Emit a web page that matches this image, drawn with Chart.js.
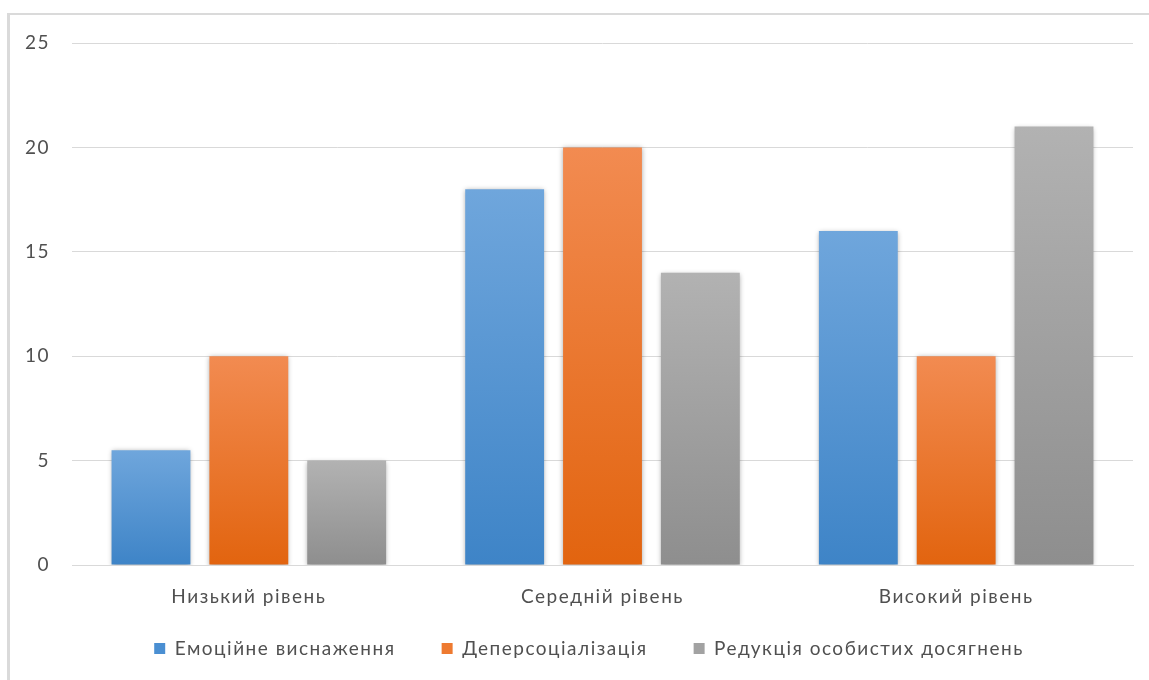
<!DOCTYPE html>
<html lang="uk">
<head>
<meta charset="utf-8">
<title>Рівні професійного вигорання</title>
<script src="https://cdn.jsdelivr.net/npm/chart.js@4/dist/chart.umd.min.js"></script>
<style>
  html, body { margin: 0; padding: 0; background: #ffffff; }
  body { width: 1149px; height: 680px; overflow: hidden; position: relative; }
  #frame {
    position: absolute; left: 7px; top: 13px; width: 1160px; height: 700px;
    border-left: 3px solid #dadada; border-top: 2px solid #dadada;
    box-sizing: border-box;
  }
  #wrap { position: absolute; left: 0; top: 0; width: 1149px; height: 680px; }
</style>
</head>
<body>
<div id="frame"></div>
<div id="wrap"><canvas id="chart" width="1149" height="680"></canvas></div>
<script>
// Categories, series and tick labels
const categories = ['Низький рівень', 'Середній рівень', 'Високий рівень'];
const seriesNames = ['Емоційне виснаження', 'Деперсоціалізація', 'Редукція особистих досягнень'];
const emotionalExhaustion = [5.5, 18, 16];
const depersonalization = [10, 20, 10];
const reducedAchievement = [5, 14, 21];
const yTicks = [0, 5, 10, 15, 20, 25];

// Top / bottom colours of each series' vertical gradient
const gradientStops = [
  ['#6fa6dc', '#3e84c7'],
  ['#f28b51', '#e2640f'],
  ['#b2b2b2', '#8e8e8e']
];
const swatchColors = ['#4a8fd2', '#ee7a30', '#a2a2a2'];

const TEXT = '#505050';
const GRID = '#d9d9d9';
const FONT = { family: 'Lato, "Open Sans", sans-serif', size: 19 };

function barGradient(context) {
  const chart = context.chart;
  const { chartArea } = chart;
  if (!chartArea || context.type !== 'data') return swatchColors[context.datasetIndex];
  const yScale = chart.scales.y;
  const v = context.raw;
  const top = yScale.getPixelForValue(v);
  const bottom = yScale.getPixelForValue(0);
  const g = chart.ctx.createLinearGradient(0, top, 0, bottom);
  const [c0, c1] = gradientStops[context.datasetIndex];
  g.addColorStop(0, c0);
  g.addColorStop(1, c1);
  return g;
}

// Tick labels may run past their (deliberately narrow) scale boxes
function unclipLabels(scale) {
  scale._computeLabelArea = () => undefined;
}

// Wider tracking for all canvas text
const spacingPlugin = {
  id: 'letterSpacing',
  beforeUpdate(chart) { chart.ctx.letterSpacing = '1.5px'; },
  beforeDraw(chart) { chart.ctx.letterSpacing = '1.5px'; }
};

// Soft drop shadow under the bars
const shadowPlugin = {
  id: 'barShadow',
  beforeDatasetsDraw(chart) {
    const ctx = chart.ctx;
    ctx.save();
    ctx.shadowColor = 'rgba(0,0,0,0.35)';
    ctx.shadowBlur = 5;
    ctx.shadowOffsetX = 0;
    ctx.shadowOffsetY = 1;
  },
  afterDatasetsDraw(chart) {
    chart.ctx.restore();
  }
};

const values = [emotionalExhaustion, depersonalization, reducedAchievement];

new Chart(document.getElementById('chart'), {
  type: 'bar',
  data: {
    labels: categories,
    datasets: seriesNames.map((name, i) => ({
      label: name,
      data: values[i],
      backgroundColor: barGradient,
      borderWidth: 0,
      categoryPercentage: 0.83,
      barPercentage: 0.806
    }))
  },
  options: {
    responsive: false,
    animation: false,
    devicePixelRatio: 1,
    layout: { padding: { left: 45, right: 16, top: 43, bottom: 12 } },
    plugins: {
      tooltip: { enabled: false },
      legend: {
        position: 'bottom',
        labels: {
          color: TEXT,
          font: FONT,
          boxWidth: 11,
          boxHeight: 11,
          padding: 46,
          generateLabels(chart) {
            return seriesNames.map((name, i) => ({
              text: name,
              fillStyle: swatchColors[i],
              strokeStyle: swatchColors[i],
              lineWidth: 0,
              hidden: false,
              datasetIndex: i,
              fontColor: TEXT
            }));
          }
        }
      }
    },
    scales: {
      x: {
        grid: { display: false, drawTicks: false },
        border: { color: GRID, width: 1 },
        ticks: { color: TEXT, font: FONT, padding: 20 },
        afterFit(scale) { scale.height = 28; unclipLabels(scale); }
      },
      y: {
        min: 0,
        max: 25,
        afterBuildTicks(scale) { scale.ticks = yTicks.map(v => ({ value: v })); },
        grid: { color: GRID, lineWidth: 1, drawTicks: false },
        border: { display: false },
        ticks: { color: TEXT, font: FONT, padding: 22 },
        afterFit(scale) { scale.width = 27; unclipLabels(scale); }
      }
    }
  },
  plugins: [spacingPlugin, shadowPlugin]
});
</script>
</body>
</html>
